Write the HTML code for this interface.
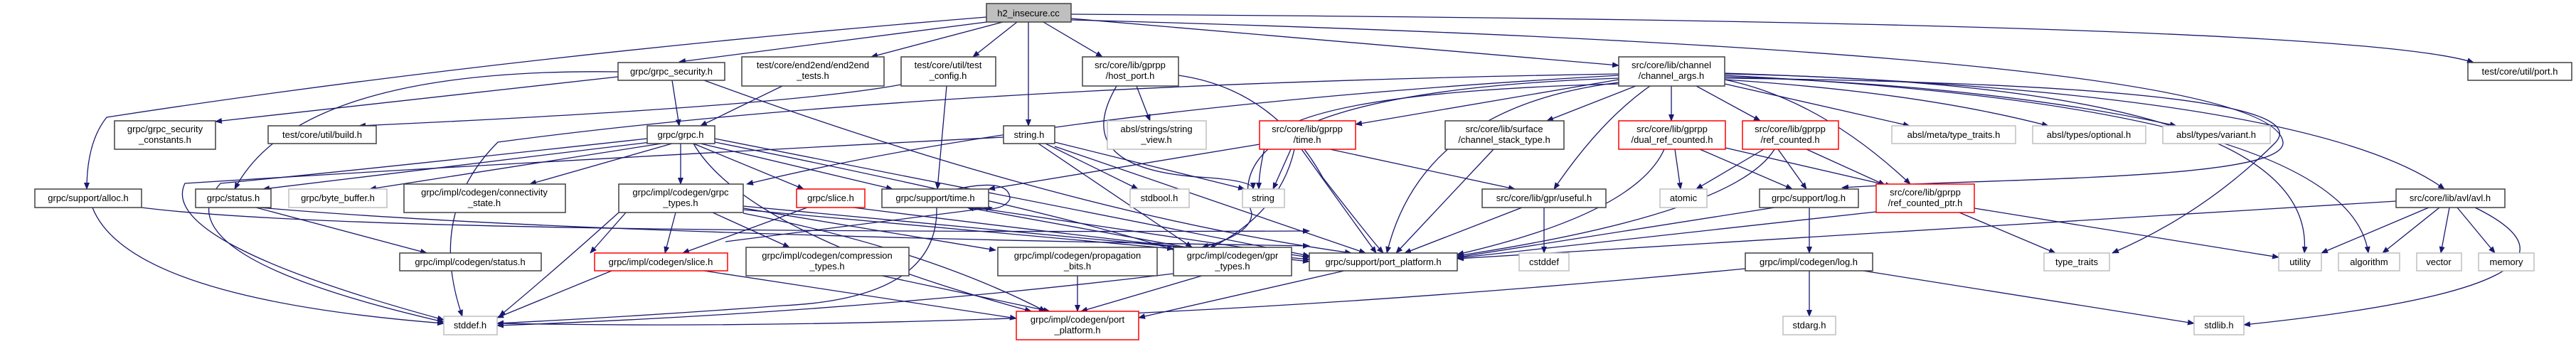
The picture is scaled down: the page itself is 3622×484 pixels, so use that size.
<!DOCTYPE html>
<html><head><meta charset="utf-8"><style>
html,body{margin:0;padding:0;background:#fff;width:3622px;height:484px;overflow:hidden}
svg{display:block}
text{font-family:"Liberation Sans",sans-serif;font-size:13px;fill:#000;text-anchor:middle}
.e{fill:none;stroke:#191970;stroke-width:1.3}
.n{fill:#fff;stroke:#404040;stroke-width:1.5}
.r{fill:#fff;stroke:#ff0000;stroke-width:1.5}
.g{fill:#fff;stroke:#bfbfbf;stroke-width:1.5}
</style></head><body>
<svg width="3622" height="484" viewBox="0 0 3622 484" xmlns="http://www.w3.org/2000/svg">
<defs><marker id="a" markerWidth="10" markerHeight="8" refX="9" refY="4" orient="auto" markerUnits="userSpaceOnUse"><path d="M0,0 L10,4 L0,8 z" fill="#191970"/></marker></defs>
<g class="e" marker-end="url(#a)">
<path d="M1387,24 Q700,80 150,165 Q122,200 122,266"/>
<path d="M1395,30 L955,87"/>
<path d="M1410,31 L1225,80"/>
<path d="M1430,31 L1368,80"/>
<path d="M1446,31 L1446,177"/>
<path d="M1467,31 L1550,80"/>
<path d="M1506,26 L2276,92"/>
<path d="M1506,20 Q3300,30 3478,88"/>
<path d="M1506,28 C2700,60 3200,120 3210,200 C3215,255 2800,250 2590,264"/>
<path d="M945,113 L955,177"/>
<path d="M869,108 L303,171"/>
<path d="M869,101 Q420,95 330,266"/>
<path d="M990,113 Q1500,300 1900,356"/>
<path d="M1100,121 L985,177"/>
<path d="M1331,121 L1318,266"/>
<path d="M1267,119 Q1100,150 505,177"/>
<path d="M1598,121 L1617,170"/>
<path d="M1570,121 Q1500,240 1700,250 Q1762,255 1762,266"/>
<path d="M1657,106 Q1790,125 1860,250 Q1930,340 1945,356"/>
<path d="M1483,200 L1750,266"/>
<path d="M1470,202 L1600,266"/>
<path d="M1411,193 Q700,230 260,258 Q220,340 624,450"/>
<path d="M1483,206 L1920,356"/>
<path d="M1460,202 L1676,348"/>
<path d="M957,202 L957,259"/>
<path d="M975,202 L1130,266"/>
<path d="M985,202 L1255,266"/>
<path d="M915,200 L370,266"/>
<path d="M930,202 L520,266"/>
<path d="M945,202 L745,259"/>
<path d="M910,195 Q500,240 310,258 Q220,360 624,453"/>
<path d="M975,202 Q1050,330 1450,438"/>
<path d="M1005,195 L1841,360"/>
<path d="M1005,200 Q1500,300 1660,355"/>
<path d="M2276,112 L1906,175"/>
<path d="M2300,121 L2175,170"/>
<path d="M2320,121 Q2250,170 2185,266"/>
<path d="M2350,121 L2350,170"/>
<path d="M2385,121 L2475,170"/>
<path d="M2425,118 L2685,177"/>
<path d="M2425,112 Q2700,130 2880,177"/>
<path d="M2425,108 Q2800,120 3060,177"/>
<path d="M2425,103 Q3250,130 3437,266"/>
<path d="M2425,104 Q3260,120 3240,356"/>
<path d="M2425,106 Q3300,150 3330,356"/>
<path d="M2425,110 Q3270,120 3200,200 Q3100,300 2970,356"/>
<path d="M2425,112 Q2560,140 2686,259"/>
<path d="M2276,116 Q2000,150 1950,356"/>
<path d="M2276,118 Q1830,130 1780,200 Q1770,240 1770,266"/>
<path d="M2276,106 Q1500,150 1050,259"/>
<path d="M2276,104 Q1300,120 700,200 Q600,300 650,445"/>
<path d="M2276,110 Q1700,130 1760,300 Q1760,330 1690,348"/>
<path d="M1771,203 L1390,266"/>
<path d="M1870,210 L2130,266"/>
<path d="M1830,210 L1935,356"/>
<path d="M1820,210 Q1800,300 1700,350"/>
<path d="M1815,210 L1790,266"/>
<path d="M2100,210 L1963,356"/>
<path d="M2140,292 L1975,356"/>
<path d="M2171,292 L2171,356"/>
<path d="M2355,210 L2363,266"/>
<path d="M2390,210 L2520,266"/>
<path d="M2426,208 L2660,262"/>
<path d="M2340,210 Q2300,300 2049,358"/>
<path d="M2480,210 L2385,266"/>
<path d="M2500,210 L2540,266"/>
<path d="M2540,210 L2650,260"/>
<path d="M2495,210 Q2440,300 2049,360"/>
<path d="M2544,292 L2544,356"/>
<path d="M2495,292 L2049,362"/>
<path d="M2544,381 L2544,445"/>
<path d="M2620,381 L3085,455"/>
<path d="M2454,378 Q1500,470 699,455"/>
<path d="M2755,299 L2890,356"/>
<path d="M2776,293 L3204,362"/>
<path d="M2638,298 L2049,363"/>
<path d="M3415,292 L3264,356"/>
<path d="M3430,292 L3350,356"/>
<path d="M3444,292 L3432,356"/>
<path d="M3455,292 L3508,356"/>
<path d="M3480,292 Q3700,400 3155,457"/>
<path d="M3369,283 L2049,364"/>
<path d="M1890,381 L1601,447"/>
<path d="M1690,388 L1520,438"/>
<path d="M1515,388 L1515,438"/>
<path d="M1240,388 L1476,438"/>
<path d="M990,381 L1429,448"/>
<path d="M860,381 L699,447"/>
<path d="M1650,385 Q1200,440 699,458"/>
<path d="M950,299 L935,356"/>
<path d="M1002,299 L1110,348"/>
<path d="M1040,292 L1400,352"/>
<path d="M1045,295 L1650,350"/>
<path d="M880,299 L830,356"/>
<path d="M1045,290 L1841,365"/>
<path d="M870,299 Q780,380 702,445"/>
<path d="M1045,300 Q1300,350 1470,438"/>
<path d="M1135,292 L960,356"/>
<path d="M1200,292 Q1500,330 1841,368"/>
<path d="M1345,266 Q1420,250 1420,280 Q1410,300 1360,292"/>
<path d="M1370,292 L1841,362"/>
<path d="M1360,292 L1680,350"/>
<path d="M1317,292 Q1320,420 1100,430 Q900,445 699,455"/>
<path d="M360,292 L600,356"/>
<path d="M365,292 Q800,330 1841,346"/>
<path d="M130,292 Q180,420 624,455"/>
<path d="M199,292 Q500,330 1841,325"/>
<path d="M1020,340 L1395,292"/>
</g>
<rect x="1387" y="5" width="119" height="26" fill="#bfbfbf" stroke="#404040" stroke-width="1.5"/><text x="1446" y="23">h2_insecure.cc</text>
<rect class="n" x="869" y="88" width="150" height="25"/><text x="944" y="105">grpc/grpc_security.h</text>
<rect class="n" x="1043" y="80" width="200" height="41"/><text x="1143" y="96">test/core/end2end/end2end</text><text x="1143" y="111">_tests.h</text>
<rect class="n" x="1267" y="80" width="133" height="41"/><text x="1333" y="96">test/core/util/test</text><text x="1333" y="111">_config.h</text>
<rect class="n" x="1522" y="80" width="135" height="41"/><text x="1589" y="96">src/core/lib/gprpp</text><text x="1589" y="111">/host_port.h</text>
<rect class="n" x="2276" y="80" width="149" height="41"/><text x="2350" y="96">src/core/lib/channel</text><text x="2350" y="111">/channel_args.h</text>
<rect class="n" x="3470" y="88" width="146" height="25"/><text x="3543" y="105">test/core/util/port.h</text>
<rect class="n" x="161" y="170" width="142" height="40"/><text x="232" y="186">grpc/grpc_security</text><text x="232" y="201">_constants.h</text>
<rect class="n" x="377" y="177" width="152" height="25"/><text x="453" y="194">test/core/util/build.h</text>
<rect class="n" x="910" y="177" width="95" height="25"/><text x="957" y="194">grpc/grpc.h</text>
<rect class="n" x="1411" y="177" width="72" height="25"/><text x="1447" y="194">string.h</text>
<rect class="g" x="1557" y="170" width="139" height="40"/><text x="1626" y="186">absl/strings/string</text><text x="1626" y="201">_view.h</text>
<rect class="r" x="1771" y="170" width="135" height="40"/><text x="1838" y="186">src/core/lib/gprpp</text><text x="1838" y="201">/time.h</text>
<rect class="n" x="2032" y="170" width="167" height="40"/><text x="2115" y="186">src/core/lib/surface</text><text x="2115" y="201">/channel_stack_type.h</text>
<rect class="r" x="2276" y="170" width="150" height="40"/><text x="2351" y="186">src/core/lib/gprpp</text><text x="2351" y="201">/dual_ref_counted.h</text>
<rect class="r" x="2450" y="170" width="135" height="40"/><text x="2517" y="186">src/core/lib/gprpp</text><text x="2517" y="201">/ref_counted.h</text>
<rect class="g" x="2660" y="177" width="174" height="25"/><text x="2747" y="194">absl/meta/type_traits.h</text>
<rect class="g" x="2858" y="177" width="159" height="25"/><text x="2937" y="194">absl/types/optional.h</text>
<rect class="g" x="3041" y="177" width="151" height="25"/><text x="3116" y="194">absl/types/variant.h</text>
<rect class="n" x="49" y="266" width="150" height="26"/><text x="124" y="283">grpc/support/alloc.h</text>
<rect class="n" x="275" y="266" width="106" height="26"/><text x="328" y="283">grpc/status.h</text>
<rect class="g" x="406" y="266" width="138" height="26"/><text x="475" y="283">grpc/byte_buffer.h</text>
<rect class="n" x="568" y="259" width="227" height="40"/><text x="681" y="275">grpc/impl/codegen/connectivity</text><text x="681" y="290">_state.h</text>
<rect class="n" x="870" y="259" width="175" height="40"/><text x="957" y="275">grpc/impl/codegen/grpc</text><text x="957" y="290">_types.h</text>
<rect class="r" x="1120" y="266" width="96" height="26"/><text x="1168" y="283">grpc/slice.h</text>
<rect class="n" x="1240" y="266" width="150" height="26"/><text x="1315" y="283">grpc/support/time.h</text>
<rect class="g" x="1589" y="266" width="83" height="26"/><text x="1630" y="283">stdbool.h</text>
<rect class="g" x="1747" y="266" width="59" height="26"/><text x="1776" y="283">string</text>
<rect class="n" x="2084" y="266" width="174" height="26"/><text x="2171" y="283">src/core/lib/gpr/useful.h</text>
<rect class="g" x="2334" y="266" width="66" height="26"/><text x="2367" y="283">atomic</text>
<rect class="n" x="2474" y="266" width="139" height="26"/><text x="2543" y="283">grpc/support/log.h</text>
<rect class="r" x="2638" y="259" width="138" height="40"/><text x="2707" y="275">src/core/lib/gprpp</text><text x="2707" y="290">/ref_counted_ptr.h</text>
<rect class="n" x="3369" y="266" width="153" height="26"/><text x="3445" y="283">src/core/lib/avl/avl.h</text>
<rect class="n" x="562" y="356" width="199" height="25"/><text x="661" y="373">grpc/impl/codegen/status.h</text>
<rect class="r" x="836" y="356" width="187" height="25"/><text x="929" y="373">grpc/impl/codegen/slice.h</text>
<rect class="n" x="1049" y="348" width="229" height="40"/><text x="1163" y="364">grpc/impl/codegen/compression</text><text x="1163" y="379">_types.h</text>
<rect class="n" x="1403" y="348" width="224" height="40"/><text x="1515" y="364">grpc/impl/codegen/propagation</text><text x="1515" y="379">_bits.h</text>
<rect class="n" x="1650" y="348" width="166" height="40"/><text x="1733" y="364">grpc/impl/codegen/gpr</text><text x="1733" y="379">_types.h</text>
<rect class="n" x="1841" y="356" width="208" height="25"/><text x="1945" y="373">grpc/support/port_platform.h</text>
<rect class="g" x="2136" y="356" width="70" height="25"/><text x="2171" y="373">cstddef</text>
<rect class="n" x="2454" y="356" width="179" height="25"/><text x="2543" y="373">grpc/impl/codegen/log.h</text>
<rect class="g" x="2874" y="356" width="92" height="25"/><text x="2920" y="373">type_traits</text>
<rect class="g" x="3204" y="356" width="60" height="25"/><text x="3234" y="373">utility</text>
<rect class="g" x="3288" y="356" width="86" height="25"/><text x="3331" y="373">algorithm</text>
<rect class="g" x="3398" y="356" width="63" height="25"/><text x="3429" y="373">vector</text>
<rect class="g" x="3485" y="356" width="78" height="25"/><text x="3524" y="373">memory</text>
<rect class="g" x="624" y="445" width="75" height="26"/><text x="661" y="462">stddef.h</text>
<rect class="r" x="1429" y="438" width="172" height="40"/><text x="1515" y="454">grpc/impl/codegen/port</text><text x="1515" y="469">_platform.h</text>
<rect class="g" x="2507" y="445" width="74" height="26"/><text x="2544" y="462">stdarg.h</text>
<rect class="g" x="3085" y="445" width="70" height="26"/><text x="3120" y="462">stdlib.h</text>
</svg>
</body></html>
